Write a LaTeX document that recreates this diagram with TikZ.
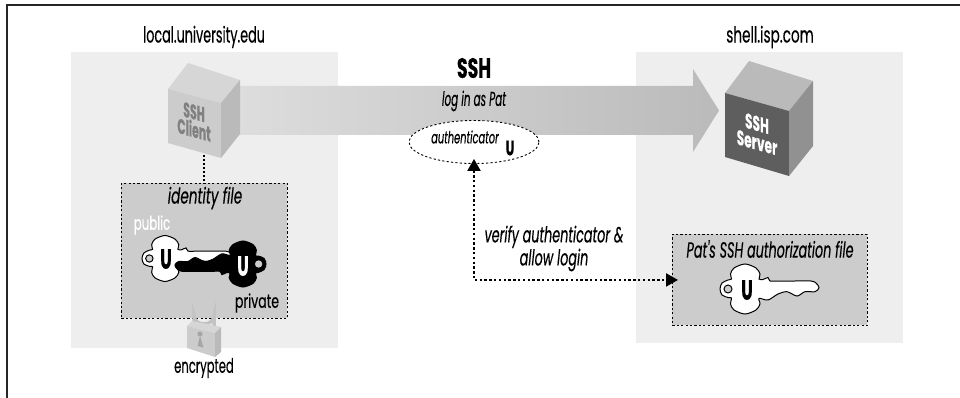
\documentclass[tikz,border=0pt]{standalone}
\usepackage{fontspec}
\setmainfont[FakeStretch=0.62,FakeBold=0.3]{Poppins}
\newfontfamily\fa[FakeStretch=0.52,FakeBold=0.3]{Poppins}
\newfontfamily\fb[FakeStretch=0.58,FakeBold=0.3]{Poppins}
\newfontfamily\fc[FakeStretch=0.62,FakeBold=0.3]{Poppins}
\newfontfamily\fd[FakeStretch=0.66,FakeBold=0.3]{Poppins}
\usetikzlibrary{arrows.meta,calc,shapes.geometric}
\definecolor{panelgray}{HTML}{EEEEEE}
\definecolor{boxgray}{HTML}{CCCCCC}
\tikzset{
  panel/.style={fill=panelgray,draw=none,inner sep=0pt,anchor=north west},
  filebox/.style={fill=boxgray,draw=black,line width=0.9pt,dash pattern=on 2.2pt off 2.2pt,inner sep=0pt,anchor=north west},
  caption/.style={font=\fontsize{22}{23}\selectfont\fc\itshape,text=black,align=center},
  dotlink/.style={line width=2.2pt,dash pattern=on 2.4pt off 2.4pt},
  keyU/.style={font=\fontsize{28}{28}\selectfont\fb\bfseries},
  keybody/.style={line width=1pt}
}
\newcommand{\keyoutline}{plot[smooth cycle,tension=0.5] coordinates {(-25,0)(-23,-6)(-17,-9)(-13.5,-10)(-14.5,-15)(-11,-21)(0,-25)(11,-21)(15,-15)(14,-10)(18,-9.5)(23,-11.5)(25,-8)(35,-8)(50,-8)(66,-8)(71,-6)(74,-1.3)(70,2.7)(60,2.7)(52,7)(42,2.7)(33,5)(23,11)(14,9.3)(15,15)(11,21)(0,25)(-11,21)(-14.5,15)(-13.5,9)(-17,8.5)(-23,6)}}
\begin{document}
\begin{tikzpicture}[x=1pt,y=-1pt]
\useasboundingbox (0,0) rectangle (960,398);
% frame
\draw[line width=2pt,color=black!85] (7,398) -- (7,5.5) -- (960,5.5);
% panels
\node[panel,minimum width=267pt,minimum height=296pt] (leftpanel) at (71,52) {};
\node[panel,minimum width=267pt,minimum height=291pt] (rightpanel) at (636,52) {};
% big arrow
\shade[left color=black!13,right color=black!27]
  (225,86) -- (693,86) -- (693,69) -- (719,110.5) -- (693,152) -- (693,135) -- (225,135) -- cycle;
% client cube
\fill[color=black!16] (168,89) -- (188,63) -- (240,80) -- (221,103) -- cycle;
\fill[color=black!20] (168,89) -- (221,103) -- (221,158) -- (168,143) -- cycle;
\fill[color=black!27] (221,103) -- (240,80) -- (240,134) -- (221,158) -- cycle;
\node[font=\fontsize{21}{18}\selectfont\fa\bfseries,align=center,transform shape,inner sep=0pt,yslant=-0.27,text=black!50] (client) at (194,121) {SSH\\Client};
\coordinate (clientbase) at (204,155);
% server cube
\fill[color=black!27] (725,93) -- (749,61) -- (813,81) -- (789,111) -- cycle;
\fill[color=black!63] (725,93) -- (789,111) -- (789,176) -- (725,157) -- cycle;
\fill[color=black!43] (789,111) -- (813,81) -- (813,146) -- (789,176) -- cycle;
\node[font=\fontsize{21}{19}\selectfont\fb\bfseries,align=center,transform shape,inner sep=0pt,yslant=-0.28,text=white] (server) at (757,133) {SSH\\Server};
% identity box
\node[filebox,minimum width=166pt,minimum height=135pt] (idbox) at (121,183) {};
\draw[line width=1.6pt,dash pattern=on 2pt off 2pt] (clientbase) -- (idbox.north -| clientbase);
% identity keys
\begin{scope}[shift={(165,258.5)},scale=0.92]
  \draw[keybody,fill=white] \keyoutline;
  \draw[keybody,fill=boxgray] (-17,0) circle (4);
\end{scope}
\begin{scope}[shift={(243,264)},scale=0.92,rotate=180]
  \draw[keybody,fill=black] \keyoutline;
  \draw[fill=boxgray,draw=none] (-17,0) circle (4);
\end{scope}
\node[keyU,text=black] (pubU) at (166,259) {U};
\node[keyU,text=white] (privU) at (243,266) {U};
\node[font=\fontsize{19}{20}\selectfont\fc,text=white] (public) at (152,225) {public};
\node[font=\fontsize{19}{20}\selectfont\fd,text=black] (private) at (257,303) {private};
\node[caption] (idlabel) at (205,198) {identity file};
% lock
\draw[line width=3.5pt,color=black!24] (194,327) -- (194,316) arc[start angle=180,end angle=0,x radius=10,y radius=8] -- (214,330);
\fill[color=black!16] (187,326) -- (192,321) -- (221,327) -- (215,333) -- cycle;
\fill[color=black!20] (187,326) -- (215,333) -- (215,357) -- (187,348) -- cycle;
\fill[color=black!27] (215,333) -- (221,327) -- (221,352) -- (215,357) -- cycle;
\fill[color=black!35] (200,334) circle (2.6) (200,336) -- (197.5,346) -- (203.5,347.5) -- cycle;
\node[font=\fontsize{20}{21}\selectfont\fb,text=black] (encrypted) at (204,368) {encrypted};
% titles
\node[font=\fontsize{22}{23}\selectfont\fb,text=black] (localhost) at (204,37) {local.university.edu};
\node[font=\fontsize{22}{23}\selectfont\fc,text=black] (shellhost) at (770,37) {shell.isp.com};
\node[font=\fontsize{28}{28}\selectfont\fc\bfseries] (ssh) at (474,68) {SSH};
\node[font=\fontsize{20}{21}\selectfont\fa\itshape] (login) at (474,101) {log in as Pat};
% authenticator
\node[ellipse,fill=white,draw=black,line width=0.9pt,dash pattern=on 2.2pt off 2.2pt,minimum width=130pt,minimum height=43pt,inner sep=0pt] (auth) at (474,142) {};
\node[font=\fontsize{17}{18}\selectfont\fb\itshape] (authtext) at (465,137) {authenticator};
\node[font=\fontsize{21}{21}\selectfont\fb\bfseries] (authU) at (510,148) {U};
% authorization file
\node[filebox,minimum width=195pt,minimum height=91pt] (authbox) at (672,234) {};
\node[font=\fontsize{22}{23}\selectfont\fb\itshape] (authlabel) at (770,249) {Pat's SSH authorization file};
\begin{scope}[shift={(745,289)}]
  \draw[keybody,fill=white] \keyoutline;
  \draw[keybody,fill=boxgray] (-17,0) circle (4);
\end{scope}
\node[keyU,text=black] (fileU) at (747,290) {U};
% verify connector
\draw[dotlink,{Triangle[length=12pt,width=13pt]}-{Triangle[length=12pt,width=13pt]},shorten <=-5pt,shorten >=-6pt]
  (auth.south) -- (auth.south |- authbox.west) -- (authbox.west);
\node[font=\fontsize{22}{23}\selectfont\fb\itshape,align=center] (verify) at (554,248.5) {verify authenticator \&\\allow login};
\end{tikzpicture}
\end{document}
